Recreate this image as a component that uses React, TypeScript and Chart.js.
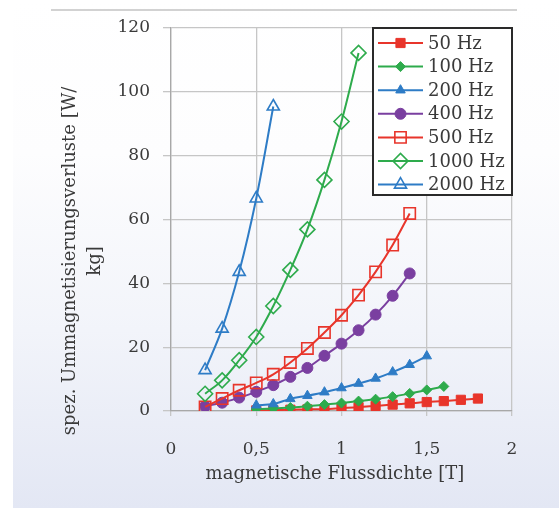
import React, { useEffect, useRef } from "react";
import { Chart, registerables } from "chart.js";
import { drawPoint } from "chart.js/helpers";

Chart.register(...registerables);

const seriesLabels = ["50 Hz", "100 Hz", "200 Hz", "400 Hz", "500 Hz", "1000 Hz", "2000 Hz"];

const x50 = [0.5, 0.6, 0.7, 0.8, 0.9, 1.0, 1.1, 1.2, 1.3, 1.4, 1.5, 1.6, 1.7, 1.8];
const y50 = [0.2, 0.3, 0.4, 0.5, 0.6, 0.9, 1.2, 1.6, 2.0, 2.4, 2.8, 3.1, 3.5, 3.9];

const x100 = [0.5, 0.6, 0.7, 0.8, 0.9, 1.0, 1.1, 1.2, 1.3, 1.4, 1.5, 1.6];
const y100 = [0.6, 0.8, 1.1, 1.5, 2.0, 2.5, 3.1, 3.7, 4.5, 5.5, 6.6, 7.7];

const x200 = [0.5, 0.6, 0.7, 0.8, 0.9, 1.0, 1.1, 1.2, 1.3, 1.4, 1.5];
const y200 = [1.8, 2.2, 3.8, 4.8, 5.9, 7.2, 8.6, 10.2, 12.2, 14.5, 17.2];

const x400 = [0.2, 0.3, 0.4, 0.5, 0.6, 0.7, 0.8, 0.9, 1.0, 1.1, 1.2, 1.3, 1.4];
const y400 = [1.5, 2.6, 4.2, 6.0, 8.1, 10.7, 13.5, 17.3, 21.1, 25.3, 30.2, 36.1, 43.1];

const x500 = [0.2, 0.3, 0.4, 0.5, 0.6, 0.7, 0.8, 0.9, 1.0, 1.1, 1.2, 1.3, 1.4];
const y500 = [1.3, 3.9, 6.5, 8.8, 11.5, 15.2, 19.6, 24.6, 30.0, 36.3, 43.6, 52.0, 61.9];

const x1000 = [0.2, 0.3, 0.4, 0.5, 0.6, 0.7, 0.8, 0.9, 1.0, 1.1];
const y1000 = [5.4, 9.6, 15.9, 23.2, 32.9, 44.2, 56.9, 72.4, 90.7, 112.2];

const x2000 = [0.2, 0.3, 0.4, 0.5, 0.6];
const y2000 = [12.8, 25.8, 43.6, 66.6, 95.4];

const xTickValues = [0, 0.5, 1, 1.5, 2];
const xTickLabels = ["0", "0,5", "1", "1,5", "2"];

const xTitle = "magnetische Flussdichte [T]";
const yTitleLines = ["spez. Ummagnetisierungsverluste [W/", "kg]"];

const RED = "#e8352b";
const GREEN = "#2eab4c";
const BLUE = "#2e7cc6";
const PURPLE = "#7a3fa0";
const FONT = "'DejaVu Serif', serif";
const TEXT = "#3a3a3a";

const seriesX = [x50, x100, x200, x400, x500, x1000, x2000];
const seriesY = [y50, y100, y200, y400, y500, y1000, y2000];
const seriesColor = [RED, GREEN, BLUE, PURPLE, RED, GREEN, BLUE];
const seriesStyle = ["rect", "rectRot", "triangle", "circle", "rect", "rectRot", "triangle"];
const seriesRadius = [6.5, 5, 5.5, 5.5, 8, 7.5, 7];
const seriesFilled = [true, true, true, true, false, false, false];

const overlayPlugin = {
  id: "overlay",
  afterDraw(chart: any) {
    const ctx = chart.ctx;
    const area = chart.chartArea;
    ctx.save();
    // axis titles
    ctx.fillStyle = TEXT;
    ctx.font = `18px ${FONT}`;
    ctx.textAlign = "center";
    ctx.textBaseline = "middle";
    ctx.fillText(xTitle, 335, 474);
    ctx.save();
    ctx.translate(0, 261);
    ctx.rotate(-Math.PI / 2);
    ctx.fillText(yTitleLines[0], 0, 70);
    ctx.fillText(yTitleLines[1], 0, 95);
    ctx.restore();

    // legend box
    const bw = 139;
    const bh = 167;
    const bx = area.right - bw;
    const by = area.top;
    ctx.fillStyle = "#ffffff";
    ctx.fillRect(bx, by, bw, bh);
    ctx.lineWidth = 2;
    ctx.strokeStyle = "#2a2a2a";
    ctx.strokeRect(bx, by, bw, bh);

    chart.data.datasets.forEach((ds: any, i: number) => {
      const cy = by + 15 + i * 23.6;
      ctx.strokeStyle = ds.borderColor;
      ctx.lineWidth = 2;
      ctx.beginPath();
      ctx.moveTo(bx + 5, cy);
      ctx.lineTo(bx + 50, cy);
      ctx.stroke();
      ctx.fillStyle = ds.pointBackgroundColor;
      ctx.strokeStyle = ds.pointBorderColor;
      ctx.lineWidth = ds.pointBorderWidth;
      drawPoint(
        ctx,
        { pointStyle: ds.pointStyle, radius: ds.pointRadius, rotation: 0, borderWidth: ds.pointBorderWidth },
        bx + 27.5,
        cy
      );
      ctx.fillStyle = TEXT;
      ctx.font = `18px ${FONT}`;
      ctx.textAlign = "left";
      ctx.textBaseline = "middle";
      ctx.fillText(ds.label, bx + 55, cy + 1);
    });
    ctx.restore();
  },
};

export default function App() {
  const canvasRef = useRef<HTMLCanvasElement | null>(null);

  useEffect(() => {
    document.body.style.margin = "0";
    const canvas = canvasRef.current;
    if (!canvas) return;
    const datasets = seriesLabels.map((label, i) => ({
      label,
      data: seriesX[i].map((x, j) => ({ x, y: seriesY[i][j] })),
      showLine: true,
      borderColor: seriesColor[i],
      borderWidth: 2,
      tension: 0.35,
      pointStyle: seriesStyle[i],
      pointRadius: seriesRadius[i],
      pointHoverRadius: seriesRadius[i],
      pointBackgroundColor: seriesFilled[i] ? seriesColor[i] : "rgba(255,255,255,0)",
      pointBorderColor: seriesColor[i],
      pointBorderWidth: seriesFilled[i] ? 1 : 1.6,
      order: -i,
    }));

    const chart = new Chart(canvas, {
      type: "scatter",
      data: { datasets },
      options: {
        animation: false,
        responsive: false,
        maintainAspectRatio: false,
        layout: { padding: { left: 0, top: 28, right: 47, bottom: 0 } },
        plugins: { legend: { display: false }, tooltip: { enabled: false } },
        scales: {
          x: {
            type: "linear",
            min: 0,
            max: 2,
            afterFit: (s: any) => {
              s.height = 97;
            },
            afterBuildTicks: (s: any) => {
              s.ticks = xTickValues.map((v) => ({ value: v }));
            },
            ticks: {
              callback: (v: any) => {
                const k = xTickValues.indexOf(Number(v));
                return k >= 0 ? xTickLabels[k] : "";
              },
              font: { family: FONT, size: 17 },
              color: TEXT,
              padding: 23,
              maxRotation: 0,
            },
            grid: { color: "#c6c6c6", lineWidth: 1.3, tickLength: 5, drawTicks: true },
            border: { color: "#a8a8a8", width: 1.3 },
          },
          y: {
            type: "linear",
            min: 0,
            max: 120,
            afterFit: (s: any) => {
              s.width = 171;
            },
            ticks: {
              stepSize: 20,
              font: { family: FONT, size: 17 },
              color: TEXT,
              padding: 13,
            },
            grid: { color: "#c6c6c6", lineWidth: 1.3, tickLength: 8 },
            border: { color: "#a8a8a8", width: 1.3 },
          },
        },
      },
      plugins: [overlayPlugin],
    });
    return () => chart.destroy();
  }, []);

  return (
    <div style={{ position: "fixed", left: 0, top: 0, width: 559, height: 508, background: "#ffffff", overflow: "hidden" }}>
      <div
        style={{
          position: "absolute",
          left: 13,
          top: 0,
          width: 546,
          height: 508,
          background: "linear-gradient(to bottom, #ffffff 0%, #fdfdfe 30%, #f2f4fa 65%, #e3e7f4 100%)",
        }}
      />
      <div style={{ position: "absolute", left: 51, top: 9, width: 466, height: 2, background: "#d2d2d2" }} />
      <canvas ref={canvasRef} width={559} height={508} style={{ position: "absolute", left: 0, top: 0, width: 559, height: 508 }} />
    </div>
  );
}
